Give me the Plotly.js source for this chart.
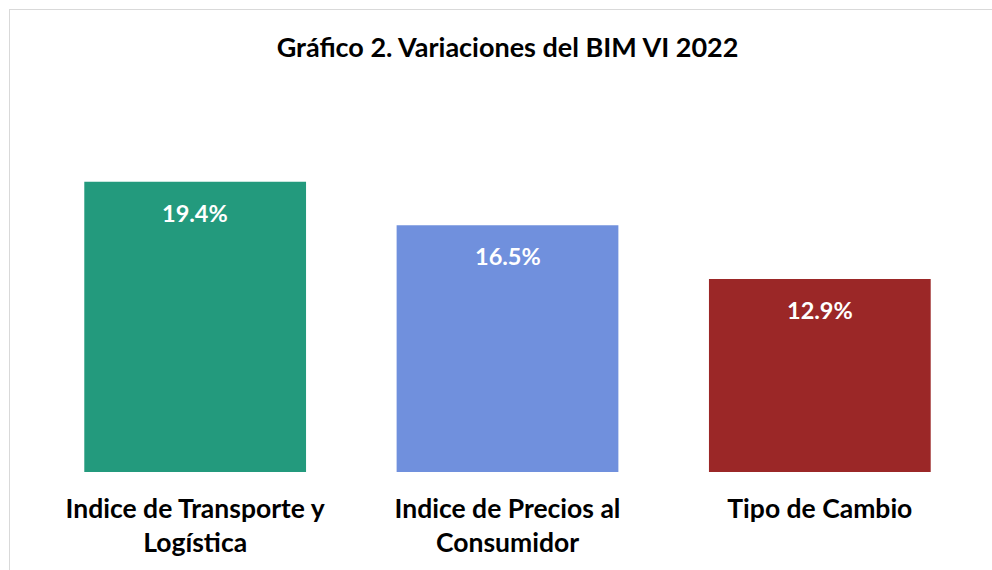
<!DOCTYPE html>
<html>
<head>
<meta charset="utf-8">
<script src="https://cdn.plot.ly/plotly-3.0.1.min.js"></script>
<style>
  html, body { margin: 0; padding: 0; background: #fff; }
  #wrap { position: relative; width: 992px; height: 570px; overflow: hidden; }
  #chart { width: 992px; height: 570px; }
  #frame { position: absolute; left: 9px; top: 9px; width: 1000px; height: 600px;
           border: 1.5px solid #d9d9d9; pointer-events: none; box-sizing: border-box; }
</style>
</head>
<body>
<div id="wrap">
  <div id="chart"></div>
  <div id="frame"></div>
</div>
<script>
const categories = ["Indice de Transporte y<br>Logística", "Indice de Precios al<br>Consumidor", "Tipo de Cambio"];
const values = [19.4, 16.5, 12.9];
const labels = ["19.4%", "16.5%", "12.9%"];
const colors = ["#239A7D", "#7090DD", "#9B2727"];

const FONT = "Lato, 'Open Sans', sans-serif";

const trace = {
  type: "bar",
  x: categories,
  y: values,
  marker: { color: colors },
  hoverinfo: "none"
};

const annotations = categories.map((c, i) => ({
  x: c, y: values[i], xref: "x", yref: "y",
  text: "<b>" + labels[i] + "</b>",
  showarrow: false, yanchor: "middle", yshift: -31,
  font: { family: FONT, size: 23.5, color: "#ffffff" }
}));

const layout = {
  width: 992, height: 570,
  margin: { l: 39, r: 16, t: 98, b: 98 },
  paper_bgcolor: "#ffffff", plot_bgcolor: "#ffffff",
  bargap: 0.29,
  showlegend: false,
  title: {
    text: "<b>Gráfico 2. Variaciones del BIM VI 2022</b>",
    font: { family: FONT, size: 27, color: "#000000" },
    x: 0.5, xref: "paper", xanchor: "center",
    y: 1 - 48 / 570, yref: "container", yanchor: "middle"
  },
  xaxis: {
    type: "category",
    showline: false, showgrid: false, zeroline: false,
    ticks: "outside", ticklen: 13, tickcolor: "rgba(0,0,0,0)",
    tickfont: { family: FONT, size: 26.5, color: "#000000" },
    tickprefix: "<b>", ticksuffix: "</b>"
  },
  yaxis: {
    range: [0, 25], visible: false, fixedrange: true
  },
  annotations: annotations
};

Plotly.newPlot("chart", [trace], layout, { displayModeBar: false, staticPlot: true });
</script>
</body>
</html>
